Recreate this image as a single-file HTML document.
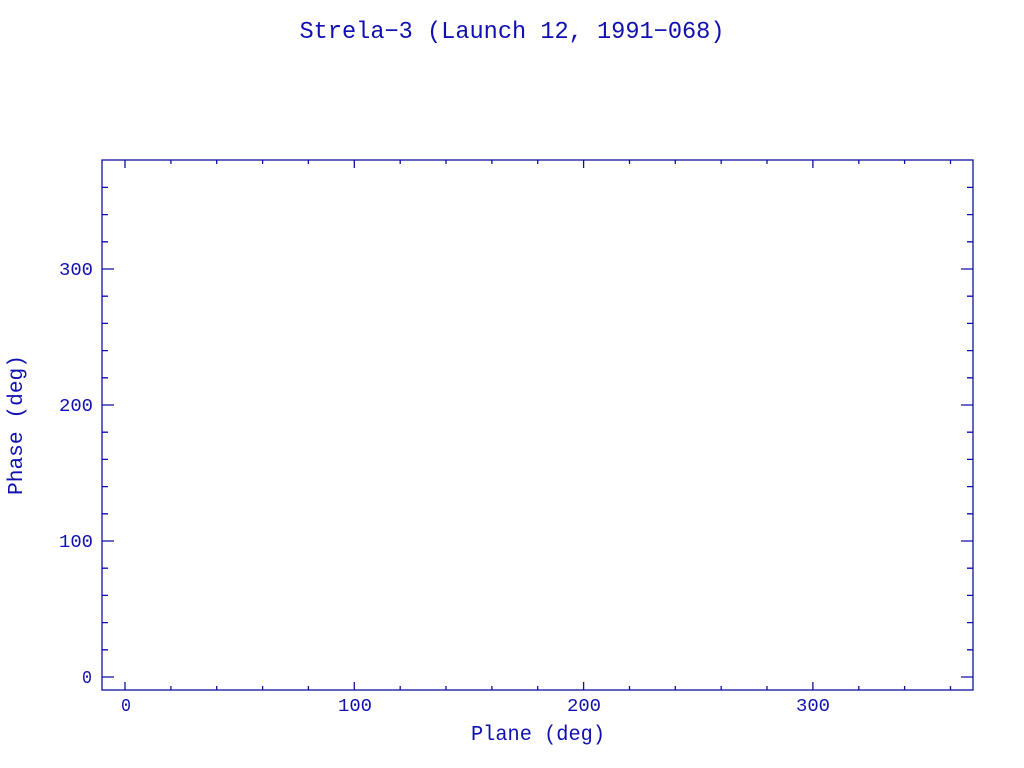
<!DOCTYPE html>
<html><head><meta charset="utf-8"><style>html,body{margin:0;padding:0;background:#fff}svg{display:block}</style></head>
<body>
<svg width="1024" height="768" xmlns="http://www.w3.org/2000/svg">
<g font-family="Liberation Mono, monospace" fill="#1010b0">
<text x="512" y="38" font-size="24" text-anchor="middle" textLength="425" lengthAdjust="spacingAndGlyphs">Strela−3 (Launch 12, 1991−068)</text>
<text x="538" y="740" font-size="21" text-anchor="middle" textLength="134" lengthAdjust="spacingAndGlyphs">Plane (deg)</text>
<text transform="translate(22,425) rotate(-90)" font-size="21" text-anchor="middle" textLength="140" lengthAdjust="spacingAndGlyphs">Phase (deg)</text>
<g font-size="18" lengthAdjust="spacingAndGlyphs">
<text x="121" y="711" textLength="10" lengthAdjust="spacingAndGlyphs">0</text>
<text x="338" y="711" textLength="34" lengthAdjust="spacingAndGlyphs">100</text>
<text x="567" y="711" textLength="34" lengthAdjust="spacingAndGlyphs">200</text>
<text x="796" y="711" textLength="34" lengthAdjust="spacingAndGlyphs">300</text>
<text x="82" y="683" textLength="10" lengthAdjust="spacingAndGlyphs">0</text>
<text x="59" y="547" textLength="34" lengthAdjust="spacingAndGlyphs">100</text>
<text x="59" y="411" textLength="34" lengthAdjust="spacingAndGlyphs">200</text>
<text x="59" y="275" textLength="34" lengthAdjust="spacingAndGlyphs">300</text>
</g>
</g>
<g stroke="#1010a0" stroke-width="1.3" fill="none">
<rect x="102" y="160" width="871" height="530"/>
<path d="
M125,690v-8M125,160v8
M170.9,690v-4M170.9,160v4
M216.7,690v-4M216.7,160v4
M262.6,690v-4M262.6,160v4
M308.4,690v-4M308.4,160v4
M354.3,690v-8M354.3,160v8
M400.2,690v-4M400.2,160v4
M446,690v-4M446,160v4
M491.9,690v-4M491.9,160v4
M537.7,690v-4M537.7,160v4
M583.6,690v-8M583.6,160v8
M629.5,690v-4M629.5,160v4
M675.3,690v-4M675.3,160v4
M721.2,690v-4M721.2,160v4
M767,690v-4M767,160v4
M812.9,690v-8M812.9,160v8
M858.8,690v-4M858.8,160v4
M904.6,690v-4M904.6,160v4
M950.5,690v-4M950.5,160v4
M102,677h12M973,677h-12
M102,649.8h6M973,649.8h-6
M102,622.6h6M973,622.6h-6
M102,595.4h6M973,595.4h-6
M102,568.2h6M973,568.2h-6
M102,541h12M973,541h-12
M102,513.8h6M973,513.8h-6
M102,486.6h6M973,486.6h-6
M102,459.4h6M973,459.4h-6
M102,432.2h6M973,432.2h-6
M102,405h12M973,405h-12
M102,377.8h6M973,377.8h-6
M102,350.6h6M973,350.6h-6
M102,323.4h6M973,323.4h-6
M102,296.2h6M973,296.2h-6
M102,269h12M973,269h-12
M102,241.8h6M973,241.8h-6
M102,214.6h6M973,214.6h-6
M102,187.4h6M973,187.4h-6"/>
</g>
</svg>
</body></html>
